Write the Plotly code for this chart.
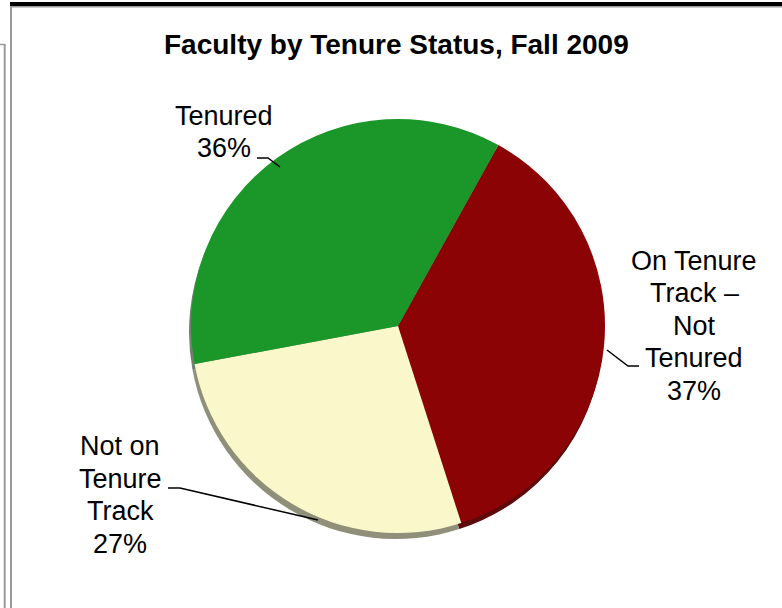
import plotly.graph_objects as go

# ---------------- data ----------------
categories = ["On Tenure Track – Not Tenured", "Not on Tenure Track", "Tenured"]
values = [37, 27, 36]
label_lines = [
    ["On Tenure", "Track –", "Not", "Tenured"],
    ["Not on", "Tenure", "Track"],
    ["Tenured"],
]
title_text = "Faculty by Tenure Status, Fall 2009"

# ---------------- style ----------------
colors = ["#8C0305", "#FAF8CB", "#1B972A"]
shadow_colors = ["#5C0A0A", "#8F8F7A", "#70806F"]
W, H = 782, 608
FONT = "Arial, Liberation Sans, sans-serif"


def px(x):
    return x / W


def py(y):
    return 1 - y / H


cx, cy, r = 398, 326, 207

fig = go.Figure()
# 3D-ish underside (shadow) of the pie
fig.add_trace(go.Pie(
    labels=categories, values=values, sort=False, direction="clockwise",
    rotation=29, marker=dict(colors=shadow_colors, line=dict(width=0)),
    textinfo="none", textposition="none", hoverinfo="skip", showlegend=False,
    domain=dict(x=[px(cx - r - 2), px(cx + r - 2)], y=[py(cy + r + 6), py(cy - r + 6)]),
))
fig.add_trace(go.Pie(
    labels=categories, values=values, sort=False, direction="clockwise",
    rotation=29, marker=dict(colors=colors, line=dict(width=0)),
    textinfo="none", textposition="none", hoverinfo="label+percent", showlegend=False,
    domain=dict(x=[px(cx - r), px(cx + r)], y=[py(cy + r), py(cy - r)]),
))

# label positions (pixel centers x, first baseline y) and leader lines
label_pos = [(694, 270), (120, 455.7), (224, 125)]
leaders = [
    [(607, 350), (628, 366), (639, 366)],
    [(168, 488), (180, 488), (318, 520)],
    [(257, 158), (268, 158), (280, 167)],
]
LS = 32.5
FS = 27
annotations = []
for lines, v, (lx, ly) in zip(label_lines, values, label_pos):
    all_lines = lines + [f"{v}%"]
    for i, t in enumerate(all_lines):
        base = ly + i * LS
        annotations.append(dict(
            text=t, x=px(lx), y=py(base - 9.4), xref="paper", yref="paper",
            xanchor="center", yanchor="middle", showarrow=False,
            font=dict(family=FONT, size=FS, color="black"),
        ))
annotations.append(dict(
    text=f"<b>{title_text}</b>", x=px(396.5), y=py(44), xref="paper", yref="paper",
    xanchor="center", yanchor="middle", showarrow=False,
    font=dict(family=FONT, size=28, color="black"),
))

shapes = []
for pts in leaders:
    path = "M " + " L ".join(f"{px(x)},{py(y)}" for x, y in pts)
    shapes.append(dict(type="path", path=path, xref="paper", yref="paper",
                       line=dict(color="black", width=1.5)))

# page frame lines
shapes += [
    dict(type="rect", xref="paper", yref="paper", x0=px(10), x1=px(782), y0=py(2), y1=py(6),
         fillcolor="black", line=dict(width=0)),
    dict(type="line", xref="paper", yref="paper", x0=px(10), x1=px(782), y0=py(6.8), y1=py(6.8),
         line=dict(color="#9A9A9A", width=1.5)),
    dict(type="line", xref="paper", yref="paper", x0=px(11), x1=px(11), y0=py(6), y1=py(608),
         line=dict(color="#9A9A9A", width=2)),
    dict(type="line", xref="paper", yref="paper", x0=px(0), x1=px(5), y0=py(44.5), y1=py(44.5),
         line=dict(color="#9A9A9A", width=1.5)),
    dict(type="line", xref="paper", yref="paper", x0=px(4.7), x1=px(4.7), y0=py(44), y1=py(608),
         line=dict(color="#9A9A9A", width=2)),
]

fig.update_layout(
    width=W, height=H, margin=dict(l=0, r=0, t=0, b=0),
    paper_bgcolor="white", plot_bgcolor="white",
    annotations=annotations, shapes=shapes, showlegend=False,
)

fig.write_html(
    "out.html",
    config={"displayModeBar": False},
    post_script="document.body.style.margin='0';document.body.style.overflow='hidden';",
)
